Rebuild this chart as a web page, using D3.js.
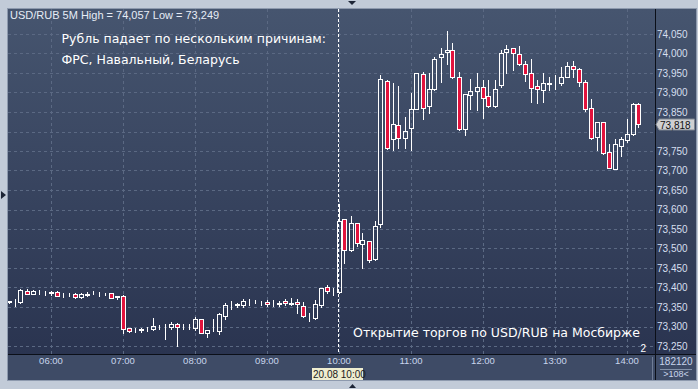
<!DOCTYPE html>
<html>
<head>
<meta charset="utf-8">
<script src="https://d3js.org/d3.v7.min.js"></script>
<style>
  body { margin: 0; background: #c2cbd8; }
  svg { display: block; }
</style>
</head>
<body>
<script type="text/javascript">

  var w = 698;
  var h = 389;

  // 5 minute candles, first one at 05:25
  var firstCandle = "05:25";
  var stepMinutes = 5;

  var opens = [73.365,73.363,73.364,73.392,73.384,73.388,73.387,73.388,73.388,73.380,73.381,73.383,73.375,73.382,73.382,73.383,73.384,73.386,73.379,
    73.378,73.295,73.291,73.291,73.293,73.293,73.299,73.299,73.299,73.306,73.300,73.301,
    73.295,73.318,73.283,73.291,73.289,73.327,73.355,73.357,73.356,73.364,73.363,73.361,
    73.364,73.357,73.358,73.365,73.358,73.363,73.352,73.326,73.323,73.356,73.400,73.391,
    73.389,73.575,73.496,73.565,73.511,73.518,73.474,73.562,73.929,73.781,73.816,73.783,
    73.808,73.857,73.947,73.865,73.908,73.990,74.003,74.008,73.939,73.806,73.893,73.904,
    73.913,73.890,73.865,73.918,74.003,74.013,73.999,73.972,73.949,73.916,73.907,73.923,
    73.924,73.925,73.940,73.967,73.959,73.926,73.859,73.785,73.824,73.747,73.705,73.764,
    73.778,73.794,73.870];
  var highs = [73.366,73.370,73.395,73.396,73.393,73.394,73.392,73.392,73.392,73.386,73.386,73.387,73.387,73.388,73.391,73.388,73.386,73.387,73.379,
    73.381,73.297,73.296,73.297,73.300,73.322,73.305,73.306,73.312,73.310,73.306,73.306,
    73.325,73.319,73.292,73.318,73.335,73.361,73.365,73.361,73.371,73.371,73.368,73.366,
    73.368,73.368,73.365,73.370,73.373,73.370,73.364,73.334,73.368,73.398,73.406,73.398,
    73.614,73.576,73.583,73.565,73.541,73.519,73.570,73.945,73.932,73.924,73.917,73.837,
    73.899,73.951,73.953,73.951,73.992,74.013,74.057,74.026,73.953,73.896,73.934,73.949,
    73.932,73.932,73.932,74.010,74.022,74.013,74.019,73.981,73.985,73.932,73.949,73.939,
    73.945,73.966,73.977,73.981,73.962,73.932,73.883,73.824,73.824,73.768,73.781,73.787,
    73.832,73.874,73.874];
  var lows = [73.361,73.353,73.359,73.383,73.383,73.383,73.381,73.381,73.378,73.376,73.377,73.373,73.373,73.378,73.381,73.378,73.381,73.374,73.370,
    73.283,73.286,73.286,73.287,73.289,73.292,73.294,73.268,73.293,73.249,73.294,73.293,
    73.291,73.283,73.274,73.288,73.281,73.318,73.345,73.351,73.351,73.355,73.360,73.354,
    73.353,73.353,73.353,73.354,73.354,73.334,73.324,73.315,73.320,73.351,73.385,73.381,
    73.387,73.462,73.494,73.507,73.451,73.466,73.471,73.554,73.755,73.753,73.757,73.757,
    73.753,73.857,73.832,73.847,73.907,73.928,73.972,73.938,73.804,73.791,73.857,73.855,
    73.834,73.862,73.864,73.915,73.951,73.958,73.970,73.930,73.876,73.872,73.876,73.906,
    73.908,73.919,73.940,73.941,73.917,73.853,73.782,73.753,73.742,73.706,73.705,73.738,
    73.774,73.791,73.812];
  var closes = [73.363,73.362,73.394,73.384,73.391,73.389,73.387,73.387,73.379,73.381,73.380,73.375,73.383,73.383,73.382,73.384,73.384,73.374,73.375,
    73.294,73.289,73.291,73.293,73.294,73.301,73.300,73.300,73.307,73.298,73.299,73.302,
    73.319,73.284,73.291,73.292,73.332,73.354,73.356,73.356,73.365,73.364,73.363,73.361,
    73.357,73.357,73.359,73.359,73.359,73.357,73.326,73.327,73.357,73.398,73.391,73.392,
    73.571,73.497,73.565,73.513,73.521,73.470,73.557,73.934,73.757,73.818,73.783,73.802,
    73.857,73.949,73.860,73.908,73.985,73.999,74.008,73.939,73.806,73.896,73.904,73.915,
    73.885,73.865,73.908,74.000,74.011,74.000,73.974,73.947,73.912,73.908,73.924,73.924,
    73.924,73.939,73.968,73.961,73.926,73.858,73.784,73.824,73.746,73.707,73.767,73.780,
    73.793,73.870,73.818];

  var yTicks = [73.25,73.30,73.35,73.40,73.45,73.50,73.55,73.60,73.65,73.70,73.75,73.80,73.85,73.90,73.95,74.00,74.05];
  var hourTicks = ["06:00","07:00","08:00","09:00","10:00","11:00","12:00","13:00","14:00"];

  var headerText = "USD/RUB 5M High = 74,057 Low = 73,249";
  var titleLines = ["Рубль падает по нескольким причинам:", "ФРС, Навальный, Беларусь"];
  var noteText = "Открытие торгов по USD/RUB на Мосбирже";
  var lastPrice = 73.818;
  var cursorTime = "10:00";
  var cursorLabel = "20.08 10:00";

  var parseT = d3.timeParse("%H:%M");
  var t0 = parseT(firstCandle);

  var plotLeft = 8, plotTop = 9, plotRight = 655, plotBottom = 354, panelRight = 696, stripBottom = 380;

  var xScale = d3.scaleTime()
      .domain([parseT("06:00"), parseT("14:00")])
      .range([50.5, 626.5]);

  var yScale = d3.scaleLinear()
      .domain([73.25, 74.05])
      .range([346, 34]);

  var fmt = function(v){ return d3.format(".3f")(v).replace(".", ","); };

  var svg = d3.select("body").append("svg")
      .attr("width", w)
      .attr("height", h)
      .style("font-family", "'Liberation Sans', Arial, sans-serif");

  var defs = svg.append("defs");
  var grad = defs.append("linearGradient")
      .attr("id", "bg")
      .attr("gradientUnits", "userSpaceOnUse")
      .attr("x1", 0).attr("y1", plotTop).attr("x2", 0).attr("y2", plotBottom);
  grad.append("stop").attr("offset", "0%").attr("stop-color", "#46556f");
  grad.append("stop").attr("offset", "100%").attr("stop-color", "#2a3450");

  defs.append("clipPath").attr("id", "plotclip")
    .append("rect").attr("x", plotLeft).attr("y", plotTop)
    .attr("width", plotRight - plotLeft).attr("height", plotBottom - plotTop);

  // panels
  svg.append("rect").attr("x", plotLeft - 1).attr("y", plotTop - 1)
      .attr("width", panelRight - plotLeft + 2).attr("height", stripBottom - plotTop + 2)
      .attr("fill", "#8e9aae");
  svg.append("rect").attr("x", plotLeft).attr("y", plotTop)
      .attr("width", panelRight - plotLeft).attr("height", plotBottom - plotTop)
      .attr("fill", "url(#bg)");
  svg.append("rect").attr("x", plotLeft).attr("y", plotBottom)
      .attr("width", panelRight - plotLeft).attr("height", stripBottom - plotBottom)
      .attr("fill", "#3e4b66");

  // grid
  var grid = svg.append("g").attr("clip-path", "url(#plotclip)");
  grid.selectAll("line.hg")
      .data(yTicks)
      .enter()
      .append("line")
      .attr("x1", plotLeft).attr("x2", plotRight)
      .attr("y1", function(d){ return Math.round(yScale(d)) + 0.5; })
      .attr("y2", function(d){ return Math.round(yScale(d)) + 0.5; })
      .attr("stroke", "#5b6983")
      .attr("stroke-dasharray", "3,3");
  grid.selectAll("line.vg")
      .data(hourTicks)
      .enter()
      .append("line")
      .attr("x1", function(d){ return Math.round(xScale(parseT(d))) + 0.5; })
      .attr("x2", function(d){ return Math.round(xScale(parseT(d))) + 0.5; })
      .attr("y1", plotTop).attr("y2", plotBottom)
      .attr("stroke", "#5b6983")
      .attr("stroke-dasharray", "3,3");

  // candles
  var candles = opens.map(function(o, i){
    return {t: d3.timeMinute.offset(t0, stepMinutes * i), o: o, h: highs[i], l: lows[i], c: closes[i]};
  });

  var cg = svg.append("g").attr("clip-path", "url(#plotclip)")
      .attr("shape-rendering", "crispEdges");

  cg.selectAll("g.c")
      .data(candles)
      .enter()
      .append("g")
      .each(function(d){
        var g = d3.select(this);
        var cx = Math.round(xScale(d.t));
        var yt = Math.round(yScale(Math.max(d.o, d.c)));
        var yb = Math.round(yScale(Math.min(d.o, d.c)));
        var yh = Math.round(yScale(d.h));
        var yl = Math.round(yScale(d.l));
        if (yh < yt) g.append("line").attr("x1", cx + 0.5).attr("x2", cx + 0.5)
            .attr("y1", yh).attr("y2", yt).attr("stroke", "#fff");
        if (yl > yb) g.append("line").attr("x1", cx + 0.5).attr("x2", cx + 0.5)
            .attr("y1", yb).attr("y2", yl + 1).attr("stroke", "#fff");
        g.append("rect")
            .attr("x", cx - 1.5).attr("width", 4)
            .attr("y", yt + 0.5).attr("height", Math.max(0, yb - yt))
            .attr("fill", d.c < d.o ? "#e2133d" : "none")
            .attr("stroke", "#fff");
      });

  // frame lines
  svg.append("line").attr("x1", plotLeft).attr("x2", panelRight)
      .attr("y1", plotBottom + 0.5).attr("y2", plotBottom + 0.5)
      .attr("stroke", "#0b0f18");
  svg.append("line").attr("x1", plotRight + 0.5).attr("x2", plotRight + 0.5)
      .attr("y1", plotTop).attr("y2", stripBottom)
      .attr("stroke", "#0b0f18");
  svg.append("line").attr("x1", plotRight - 2.5).attr("x2", plotRight - 2.5)
      .attr("y1", plotBottom + 3).attr("y2", stripBottom)
      .attr("stroke", "#6f7d96");

  // cursor line
  var cxCursor = Math.round(xScale(parseT(cursorTime))) - 0.5;
  svg.append("line").attr("x1", cxCursor).attr("x2", cxCursor)
      .attr("y1", plotTop).attr("y2", plotBottom)
      .attr("stroke", "#fff").attr("stroke-dasharray", "3,2");

  // y axis
  var yAxis = d3.axisRight(yScale)
      .tickValues(yTicks.filter(function(v){ return Math.abs(v - lastPrice) > 0.02; }))
      .tickSize(0)
      .tickPadding(0)
      .tickFormat(fmt);
  var ya = svg.append("g")
      .attr("transform", "translate(" + (plotRight + 2) + ",0)")
      .call(yAxis);
  ya.select(".domain").remove();
  ya.selectAll("text")
      .attr("fill", "#d6dfee")
      .style("font-size", "10px")
      .style("font-family", "'Liberation Sans', Arial, sans-serif");

  // x axis
  var xAxis = d3.axisBottom(xScale)
      .tickValues(hourTicks.map(parseT))
      .tickSize(0)
      .tickPadding(0)
      .tickFormat(d3.timeFormat("%H:%M"));
  var xa = svg.append("g")
      .attr("transform", "translate(0," + (plotBottom + 3) + ")")
      .call(xAxis);
  xa.select(".domain").remove();
  xa.selectAll("text")
      .attr("fill", "#c9d5ec")
      .style("font-size", "9.5px")
      .style("font-family", "'Liberation Sans', Arial, sans-serif");

  // last price marker
  var ly = Math.round(yScale(lastPrice)) + 0.5;
  svg.append("path")
      .attr("d", "M" + (plotRight + 1) + "," + ly + " L" + (plotRight + 4) + "," + (ly - 5.5) +
            " H" + (panelRight - 1.5) + " V" + (ly + 5.5) + " H" + (plotRight + 4) + " Z")
      .attr("fill", "#cfd0d2").attr("stroke", "#7d848f");
  svg.append("text")
      .attr("x", plotRight + 5).attr("y", ly + 4)
      .attr("fill", "#111").style("font-size", "10px")
      .text(fmt(lastPrice));

  // cursor date box
  var dx = Math.round(xScale(parseT(cursorTime))) - 27;
  svg.append("rect").attr("x", dx).attr("y", 368).attr("width", 51).attr("height", 12)
      .attr("fill", "#eeedcf");
  svg.append("text").attr("x", dx + 1).attr("y", 378)
      .attr("fill", "#1b1b1b").style("font-size", "10px")
      .text(cursorLabel);

  // volume box
  svg.append("text").attr("x", 676).attr("y", 365).attr("text-anchor", "middle")
      .attr("fill", "#c9d5ec").style("font-size", "10px").text("182120");
  svg.append("line").attr("x1", 660).attr("x2", 692).attr("y1", 369.5).attr("y2", 369.5)
      .attr("stroke", "#8391a8");
  svg.append("text").attr("x", 676).attr("y", 377).attr("text-anchor", "middle")
      .attr("fill", "#c9d5ec").style("font-size", "9px").text(">108<");

  // header
  svg.append("text").attr("x", 10).attr("y", 19)
      .attr("fill", "#e6ecf6").style("font-size", "11px")
      .text(headerText);

  // annotations: first title line ends just before the cursor line
  var titles = svg.selectAll("text.title")
      .data(titleLines)
      .enter()
      .append("text")
      .attr("y", function(d, i){ return 43 + i * 21; })
      .attr("fill", "#ffffff")
      .style("font-family", "'DejaVu Sans', sans-serif")
      .style("font-size", "12.5px")
      .text(function(d){ return d; });
  var titleLen = titles.nodes()[0].getComputedTextLength();
  titles.attr("x", 326 - titleLen);

  svg.append("text").attr("x", 640).attr("y", 337).attr("text-anchor", "end")
      .attr("fill", "#ffffff")
      .style("font-family", "'DejaVu Sans', sans-serif")
      .style("font-size", "12.5px")
      .text(noteText);
  svg.append("text").attr("x", 646).attr("y", 352).attr("text-anchor", "end")
      .attr("fill", "#ffffff").style("font-size", "10px").text("2");

  // little cursor markers
  svg.append("path").attr("d", "M348,1 L356,1 L352,5 Z").attr("fill", "#1d2536");
  svg.append("path").attr("d", "M349,388 L356,388 L352.5,384 Z").attr("fill", "#1d2536");
  svg.append("path").attr("d", "M1,191 L6,195 L1,199 Z").attr("fill", "#1d2536");

</script>
</body>
</html>
